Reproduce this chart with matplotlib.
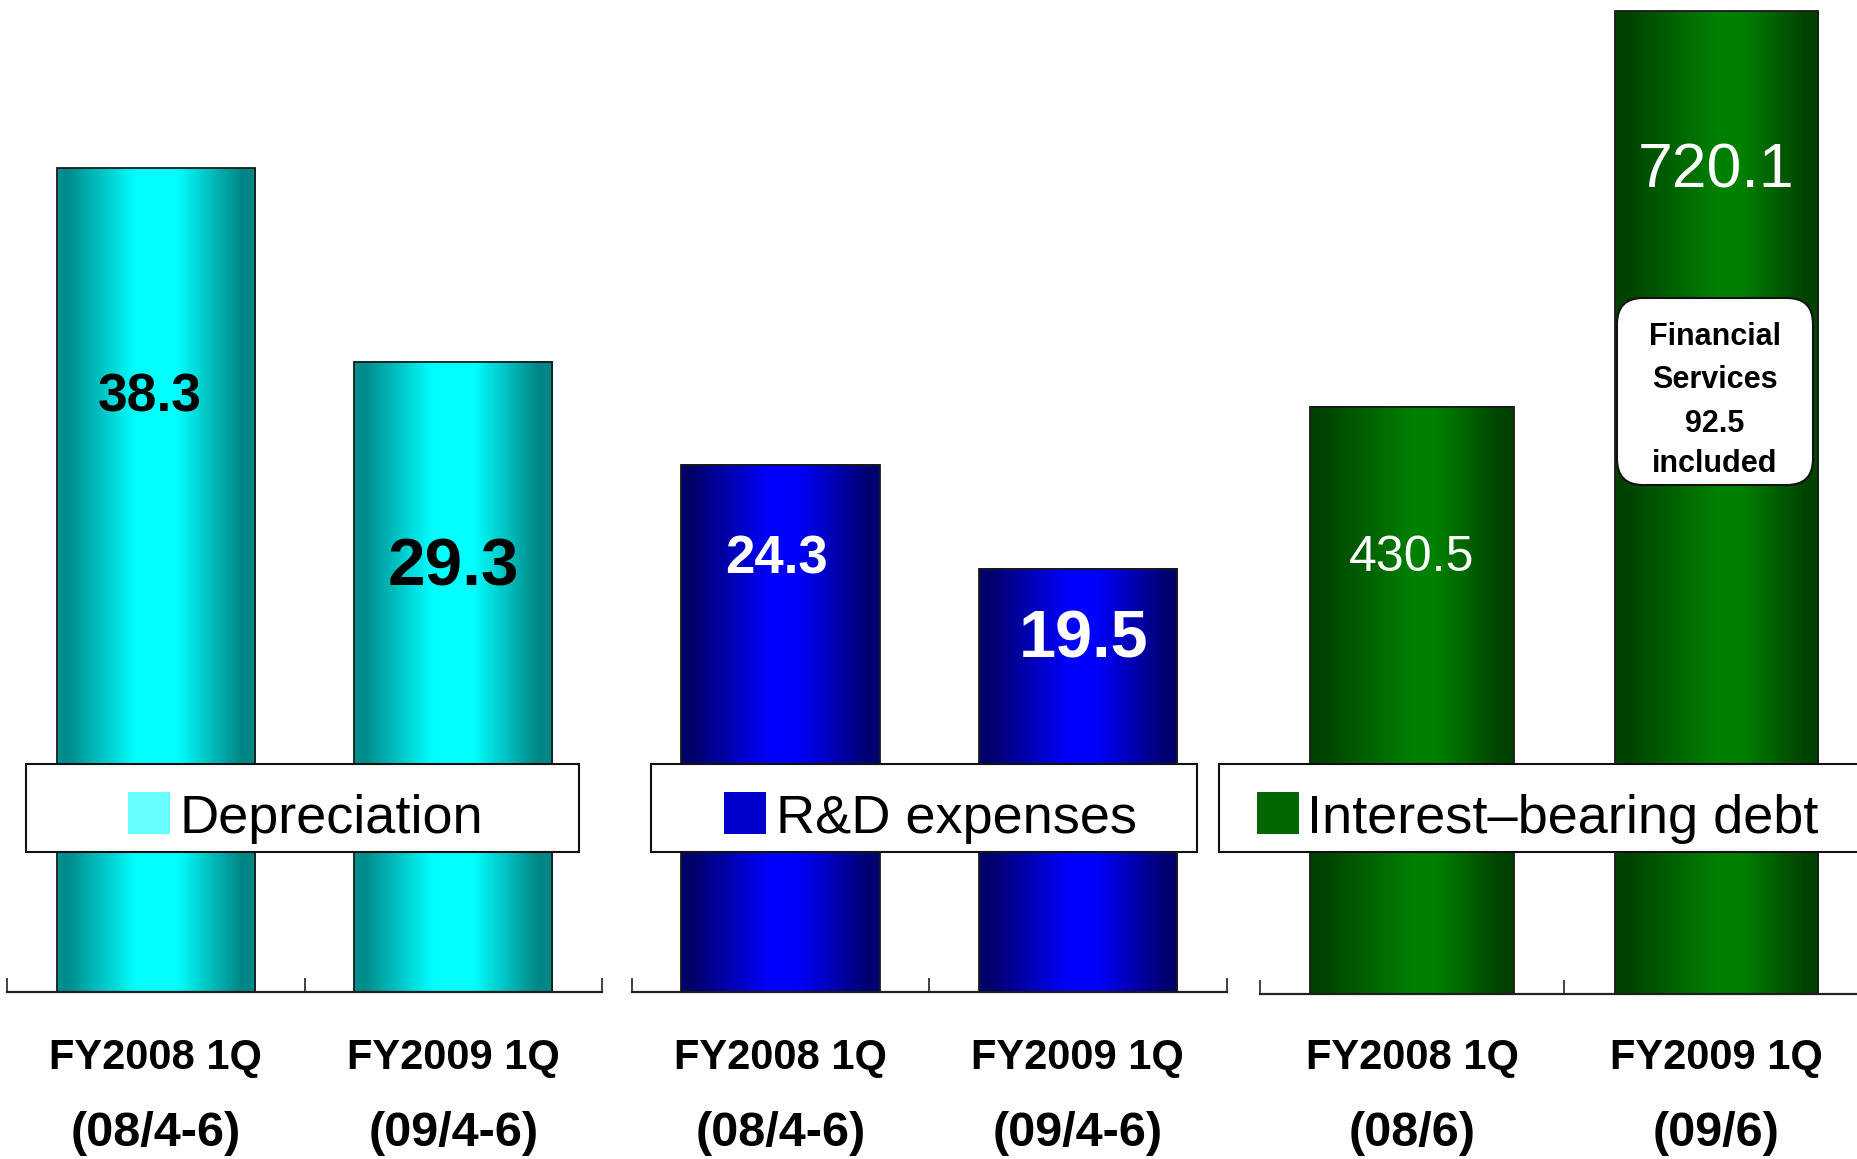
import numpy as np
import matplotlib
matplotlib.use("Agg")
import matplotlib.pyplot as plt
import matplotlib.transforms as mtransforms
from matplotlib.patches import Rectangle, FancyBboxPatch
from matplotlib.colors import to_rgb

plt.rcParams['font.family'] = ['Liberation Sans', 'DejaVu Sans']

# ---- data -------------------------------------------------------------
periods = ["FY2008 1Q", "FY2009 1Q"]
flow_periods = ["(08/4-6)", "(09/4-6)"]
stock_periods = ["(08/6)", "(09/6)"]

depreciation = [38.3, 29.3]
rd_expenses = [24.3, 19.5]
interest_bearing_debt = [430.5, 720.1]
financial_services_part = 92.5

metric_names = ["Depreciation", "R&D expenses", "Interest\u2013bearing debt"]

# ---- figure (pixel based layout helpers) --------------------------------
W, H = 1858, 1159
fig = plt.figure(figsize=(W / 100, H / 100), dpi=100)
fig.patch.set_facecolor("white")

# (x, y) in pixels measured from the top-left corner -> figure coordinates
pix = mtransforms.Affine2D().scale(1 / W, -1 / H).translate(0, 1) + fig.transFigure


def ramp(stops, n=400):
    t = np.linspace(0, 1, n)
    pos = [p for p, _ in stops]
    cols = np.array([to_rgb(c) for _, c in stops])
    img = np.stack([np.interp(t, pos, cols[:, k]) for k in range(3)], axis=-1)
    return img[np.newaxis, :, :]


panels = [
    dict(values=depreciation, sub=flow_periods, name=metric_names[0],
         left=7.1, right=602.0, base=992, ymax=46.13,
         ramp=[(0.0, "#009292"), (0.05, "#008a8a"), (0.40, "#00ffff"),
               (0.60, "#00ffff"), (0.93, "#008585"), (1.0, "#008888")],
         swatch="#66ffff", box=(26, 579), swatch_x=128, text_x=180,
         labels=[(411, 38.5, "black", "bold", -6),
                 (585, 48.5, "black", "bold", 0)]),
    dict(values=rd_expenses, sub=flow_periods, name=metric_names[1],
         left=631.6, right=1226.5, base=992, ymax=45.70,
         ramp=[(0.0, "#000070"), (0.05, "#000068"), (0.45, "#0000ff"),
               (0.58, "#0000ff"), (0.94, "#000070"), (1.0, "#000074")],
         swatch="#0000cc", box=(651, 1197), swatch_x=724, text_x=776,
         labels=[(574, 38, "white", "bold", -4),
                 (658, 48, "white", "bold", 6)]),
    dict(values=interest_bearing_debt, sub=stock_periods, name=metric_names[2],
         left=1259.7, right=1868.7, base=994, ymax=728.5,
         ramp=[(0.0, "#004400"), (0.06, "#004200"), (0.50, "#008000"),
               (0.62, "#008000"), (0.94, "#004200"), (1.0, "#004400")],
         swatch="#006600", box=(1219, 1862), swatch_x=1257, text_x=1307,
         labels=[(571, 36, "white", "normal", 0),
                 (187, 45, "white", "normal", 0)]),
]

bar_width = 0.667

for p in panels:
    ax = fig.add_axes([p["left"] / W, 1 - p["base"] / H,
                       (p["right"] - p["left"]) / W, p["base"] / H])
    ax.patch.set_visible(False)
    for side in ("left", "right", "top"):
        ax.spines[side].set_visible(False)
    ax.spines["bottom"].set_linewidth(1.6)
    ax.spines["bottom"].set_color("#222222")
    ax.set_yticks([])
    ax.set_xticks([-0.5, 0.5, 1.5])
    ax.set_xticklabels([])
    ax.tick_params(axis="x", direction="in", length=10, width=1.3,
                   color="#333333")

    x = np.arange(len(p["values"]))
    bars = ax.bar(x, p["values"], width=bar_width, facecolor="none",
                  edgecolor="#1a1a1a", linewidth=1.3, zorder=3)
    img = ramp(p["ramp"])
    for rect in bars:
        x0 = rect.get_x()
        ax.imshow(img, extent=(x0, x0 + rect.get_width(), 0, rect.get_height()),
                  aspect="auto", interpolation="bilinear", zorder=2)
    ax.set_xlim(-0.5, 1.5)
    ax.set_ylim(0, p["ymax"])

    xy_pix = mtransforms.blended_transform_factory(ax.transData, pix)

    # value labels inside the bars (small horizontal nudges in pixels)
    for xi, v, (yb, fs, col, wt, dx) in zip(x, p["values"], p["labels"]):
        off = mtransforms.offset_copy(xy_pix, fig=fig, x=dx, y=0,
                                      units="dots")
        ax.text(xi, yb, f"{v:.1f}", transform=off, ha="center",
                va="baseline", fontsize=fs, color=col, fontweight=wt,
                zorder=6)

    # category labels under the axis
    for xi, top, bottom in zip(x, periods, p["sub"]):
        ax.text(xi, 1069, top, transform=xy_pix, ha="center", va="baseline",
                fontsize=30, fontweight="bold", color="black", clip_on=False)
        ax.text(xi, 1146, bottom, transform=xy_pix, ha="center",
                va="baseline", fontsize=35, fontweight="bold", color="black",
                clip_on=False)

    # boxed legend entry laid over the bars
    bx0, bx1 = p["box"]
    fig.add_artist(Rectangle((bx0, 764), bx1 - bx0, 88, transform=pix,
                             facecolor="white", edgecolor="#111111",
                             linewidth=1.5, zorder=5))
    fig.add_artist(Rectangle((p["swatch_x"], 792), 42, 42, transform=pix,
                             facecolor=p["swatch"], edgecolor="none",
                             zorder=6))
    fig.text(p["text_x"], 833, p["name"], transform=pix, ha="left",
             va="baseline", fontsize=39, color="black", zorder=7)

# note on the latest debt bar
fig.add_artist(FancyBboxPatch((1617, 298), 196, 187,
                              boxstyle="round,pad=0,rounding_size=26",
                              transform=pix, facecolor="white",
                              edgecolor="#111111", linewidth=1.5, zorder=5))
note_lines = ["Financial", "Services", f"{financial_services_part:.1f}",
              "included"]
for yb, line in zip([345, 388, 432, 472], note_lines):
    fig.text(1715, yb, line, transform=pix, ha="center", va="baseline",
             fontsize=22, fontweight="bold", color="black", zorder=7)

fig.savefig("out.png", dpi=100, facecolor="white")
